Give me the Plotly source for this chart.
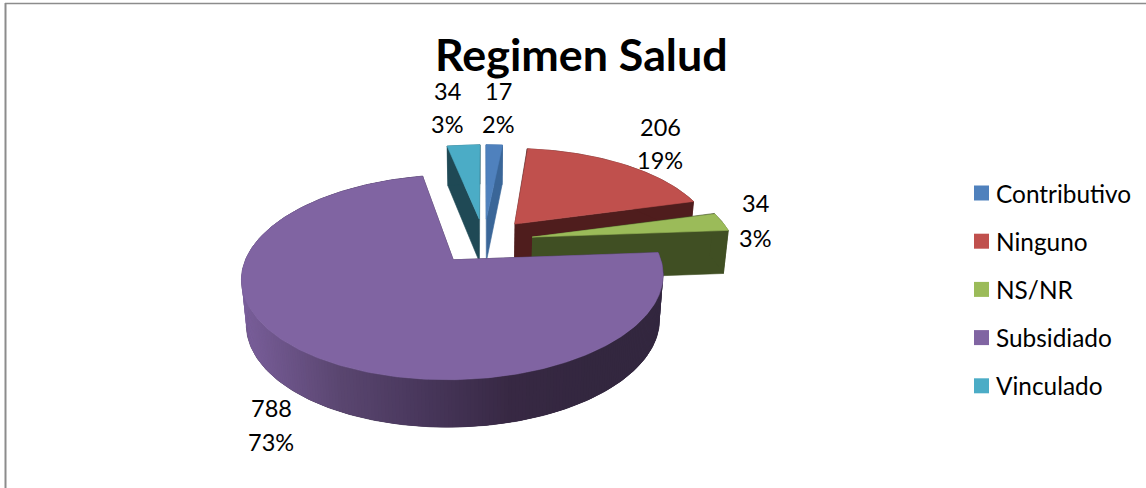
import numpy as np
import plotly.graph_objects as go

# ---- data ----
categories = ["Contributivo", "Ninguno", "NS/NR", "Subsidiado", "Vinculado"]
values = [17, 206, 34, 788, 34]
percent_labels = ["2%", "19%", "3%", "73%", "3%"]
title_text = "Regimen Salud"

# ---- style ----
top_colors = ["#4F81BD", "#C0504D", "#9BBB59", "#8064A2", "#4BACC6"]
side_colors = ["#3A6698", "#4F1D1D", "#404F23", "#33273F", "#1F4955"]
draw_order = [4, 0, 1, 2, 3]
FONT = "Lato"
LABEL_SIZE = 23.5
LEGEND_SIZE = 24.4
TITLE_SIZE = 44.8
label_pos = [(498, 91, 123.5), (660, 127, 160), (755, 203, 238), (271, 408, 442), (447, 91, 123.5)]
LEG_SWATCH_X, LEG_TEXT_X, LEG_TOP, LEG_STEP = 981.5, 994, 193, 48.2

# projection of the pie plane
CX, CY, A, B, K = 484.0, 241.0, 201.0, 93.2, 0.165
EXPLODE = 0.245
DEPTH = 43.5
gradient_x = [241, 340, 430, 510, 600, 662]
gradient_c = [(122, 95, 155), (90, 70, 112), (71, 54, 90), (56, 41, 68), (51, 39, 63), (51, 39, 63)]


def project(x, z, down=False):
    x, z = np.asarray(x, float), np.asarray(z, float)
    w = 1 / (1 + K * z)
    sx = CX + A * x * w
    sy = CY - B * z * w
    if down:
        sy = sy + DEPTH - 3.3 * z
        sx = CX + (sx - CX) * 0.98
    return sx, sy


def poly(xs, ys, color, name=None, width=0.6):
    return go.Scatter(x=xs, y=ys, mode="lines", fill="toself", fillcolor=color,
                      line=dict(color=color, width=width), showlegend=False,
                      hoverinfo="text" if name else "skip", text=name, name=name or "")


fig = go.Figure()
total = sum(values)
edges = np.concatenate([[0], np.cumsum(values)]) / total * 2 * np.pi

for i in draw_order:
    t0, t1 = edges[i], edges[i + 1]
    mid = (t0 + t1) / 2
    ex, ez = EXPLODE * np.sin(mid), EXPLODE * np.cos(mid)
    th = np.linspace(t0, t1, 300)
    ox, oz = ex + np.sin(th), ez + np.cos(th)

    # radial walls
    for t in (t0, t1):
        px = np.array([ex, ex + np.sin(t)])
        pz = np.array([ez, ez + np.cos(t)])
        tx, ty = project(px, pz)
        bx, by = project(px, pz, True)
        fig.add_trace(poly(np.r_[tx, bx[::-1]], np.r_[ty, by[::-1]], side_colors[i]))

    # rim
    tx, ty = project(ox, oz)
    bx, by = project(ox, oz, True)
    fig.add_trace(poly(np.r_[tx, bx[::-1]], np.r_[ty, by[::-1]], side_colors[i]))
    if categories[i] == "Subsidiado":
        # painted right-to-left, each band reaching under the next one, so no seams show
        visible = np.where(th > np.pi / 2)[0]
        step = 1
        for j in range(visible[0], len(th) - 1 - 2 * step, step):
            j2 = j + 2 * step
            if tx[j2] < gradient_x[0] + 1 and th[j] > 1.5 * np.pi:
                break
            xm = (tx[j] + tx[j + step]) / 2
            c = [np.interp(xm, gradient_x, [g[n] for g in gradient_c]) for n in range(3)]
            col = "rgb(%d,%d,%d)" % tuple(c)
            fig.add_trace(poly(np.r_[tx[j:j2 + 1], bx[j:j2 + 1][::-1]],
                               np.r_[ty[j:j2 + 1], by[j:j2 + 1][::-1]], col, width=0))

    # top face
    ax, ay = project([ex], [ez])
    fig.add_trace(poly(np.r_[ax, tx, ax], np.r_[ay, ty, ay], top_colors[i],
                       f"{categories[i]}: {values[i]} ({percent_labels[i]})"))

# legend swatches
leg_y = [LEG_TOP + LEG_STEP * n for n in range(len(categories))]
fig.add_trace(go.Scatter(x=[LEG_SWATCH_X] * len(categories), y=leg_y, mode="markers",
                         marker=dict(symbol="square", size=15, color=top_colors, line=dict(width=0)),
                         text=categories, hoverinfo="text", showlegend=False))

ann = []
for cat, y in zip(categories, leg_y):
    ann.append(dict(x=LEG_TEXT_X, y=y, text=cat, xanchor="left", yanchor="middle", showarrow=False,
                    xref="x", yref="y", font=dict(family=FONT, size=LEGEND_SIZE, color="#000000")))
for v, p, (x, y1, y2) in zip(values, percent_labels, label_pos):
    for txt, y in ((str(v), y1), (p, y2)):
        ann.append(dict(x=x, y=y, text=txt, xanchor="center", yanchor="middle", showarrow=False,
                        xref="x", yref="y", font=dict(family=FONT, size=LABEL_SIZE, color="#000000")))
ann.append(dict(x=581.5, y=54, text=f"<b>{title_text}</b>", xanchor="center", yanchor="middle",
                showarrow=False, xref="x", yref="y",
                font=dict(family=FONT, size=TITLE_SIZE, color="#000000")))

shapes = [
    dict(type="line", xref="x", yref="y", x0=5.5, x1=5.5, y0=3, y1=488, line=dict(color="#8C8C8C", width=2)),
    dict(type="line", xref="x", yref="y", x0=5, x1=1146, y0=3.5, y1=3.5, line=dict(color="#8C8C8C", width=1.5)),
]

fig.update_layout(
    width=1146, height=488, margin=dict(l=0, r=0, t=0, b=0),
    paper_bgcolor="white", plot_bgcolor="white", showlegend=False,
    xaxis=dict(range=[0, 1146], visible=False, fixedrange=True),
    yaxis=dict(range=[488, 0], visible=False, fixedrange=True),
    annotations=ann, shapes=shapes,
)
fig.write_html("out.html", config={"displayModeBar": False},
               post_script="document.body.style.margin='0';document.body.style.overflow='hidden';")
